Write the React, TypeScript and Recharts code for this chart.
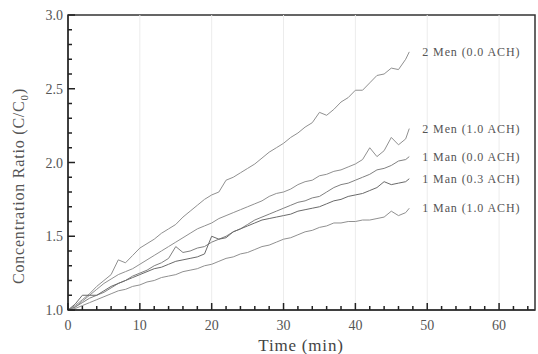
import { LineChart, Line, XAxis, YAxis, ReferenceArea, ReferenceLine, LabelList } from "recharts"

const times = [
    0, 1, 2, 3, 4, 5, 6, 7, 8, 9, 10, 11, 12, 13, 14, 15, 16, 17, 18, 19, 20, 21, 22, 23, 24,
    25, 26, 27, 28, 29, 30, 31, 32, 33, 34, 35, 36, 37, 38, 39, 40, 41, 42, 43, 44, 45, 46, 47, 47.5,
]

const men2ach00 = [
    1.0, 1.03, 1.07, 1.11, 1.16, 1.2, 1.24, 1.34, 1.32, 1.37, 1.42, 1.45, 1.48, 1.52, 1.55, 1.58,
    1.63, 1.67, 1.71, 1.75, 1.78, 1.8, 1.88, 1.9, 1.93, 1.96, 1.99, 2.03, 2.07, 2.1, 2.13, 2.17,
    2.2, 2.24, 2.27, 2.34, 2.32, 2.36, 2.41, 2.44, 2.49, 2.49, 2.54, 2.59, 2.6, 2.64, 2.63, 2.7, 2.75,
]
const men2ach10 = [
    1.0, 1.02, 1.06, 1.1, 1.14, 1.18, 1.21, 1.24, 1.26, 1.28, 1.31, 1.34, 1.37, 1.4, 1.43, 1.46,
    1.49, 1.52, 1.55, 1.57, 1.59, 1.62, 1.64, 1.66, 1.68, 1.7, 1.72, 1.74, 1.77, 1.79, 1.8, 1.82,
    1.85, 1.87, 1.88, 1.91, 1.92, 1.94, 1.95, 1.97, 1.99, 2.02, 2.1, 2.04, 2.08, 2.17, 2.12, 2.16, 2.23,
]
const man1ach00 = [
    1.0, 1.02, 1.05, 1.08, 1.1, 1.12, 1.15, 1.18, 1.2, 1.23, 1.25, 1.27, 1.3, 1.32, 1.35, 1.43,
    1.39, 1.4, 1.42, 1.43, 1.46, 1.48, 1.5, 1.53, 1.55, 1.58, 1.61, 1.63, 1.65, 1.67, 1.69, 1.71,
    1.73, 1.74, 1.76, 1.77, 1.8, 1.83, 1.85, 1.86, 1.88, 1.9, 1.92, 1.95, 1.96, 1.98, 2.01, 2.02, 2.04,
]
const man1ach03 = [
    1.0, 1.04, 1.1, 1.1, 1.1, 1.13, 1.16, 1.18, 1.2, 1.22, 1.24, 1.26, 1.28, 1.29, 1.31, 1.33,
    1.34, 1.35, 1.36, 1.38, 1.5, 1.48, 1.49, 1.53, 1.55, 1.57, 1.59, 1.61, 1.62, 1.63, 1.64, 1.65,
    1.67, 1.68, 1.69, 1.7, 1.72, 1.74, 1.75, 1.77, 1.78, 1.79, 1.81, 1.83, 1.87, 1.85, 1.86, 1.87, 1.89,
]
const man1ach10 = [
    1.0, 1.01, 1.03, 1.05, 1.07, 1.09, 1.11, 1.13, 1.14, 1.16, 1.17, 1.19, 1.2, 1.22, 1.23, 1.24,
    1.26, 1.27, 1.28, 1.3, 1.31, 1.33, 1.35, 1.36, 1.38, 1.39, 1.41, 1.43, 1.44, 1.46, 1.48, 1.49,
    1.51, 1.53, 1.54, 1.56, 1.57, 1.59, 1.59, 1.6, 1.6, 1.61, 1.61, 1.62, 1.63, 1.67, 1.64, 1.66, 1.69,
]

const seriesNames = [
    "2 Men (0.0 ACH)",
    "2 Men (1.0 ACH)",
    "1 Man (0.0 ACH)",
    "1 Man (0.3 ACH)",
    "1 Man (1.0 ACH)",
]

const xTicks = [
    0, 2, 4, 6, 8, 10, 12, 14, 16, 18, 20, 22, 24, 26, 28, 30, 32, 34, 36, 38, 40, 42, 44, 46, 48,
    50, 52, 54, 56, 58, 60, 62, 64,
]
const yTicks = [
    1.0, 1.1, 1.2, 1.3, 1.4, 1.5, 1.6, 1.7, 1.8, 1.9, 2.0, 2.1, 2.2, 2.3, 2.4, 2.5, 2.6, 2.7, 2.8,
    2.9, 3.0,
]
const gridX = [10, 20, 30, 40, 50, 60]

const allSeries = [men2ach00, men2ach10, man1ach00, man1ach03, man1ach10]
const keys = ["s0", "s1", "s2", "s3", "s4"]
const colors = ["#909090", "#909090", "#808080", "#6a6a6a", "#909090"]

const data = times.map((t, i) => {
    const row: Record<string, number> = { t }
    allSeries.forEach((s, j) => {
        row[keys[j]] = s[i]
    })
    return row
})

const font = "'Liberation Serif', 'Times New Roman', serif"
const last = times.length - 1

const isMajorX = (v: number) => v % 10 === 0
const isMajorY = (v: number) => Math.round(v * 10) % 5 === 0

// inward tick marks (longer on majors), labels only on majors
function XTick(props: any) {
    const { x, y, payload } = props
    const major = isMajorX(payload.value)
    return (
        <g>
            <path d={`M${x},${y}V${y - (major ? 7 : 4)}`} stroke="#222" strokeWidth={1.5} fill="none" />
            {major && (
                <text x={x} y={y + 20} textAnchor="middle" fontFamily={font} fontSize={14} fill="#555">
                    {payload.value}
                </text>
            )}
        </g>
    )
}

function YTick(props: any) {
    const { x, y, payload } = props
    const major = isMajorY(payload.value)
    return (
        <g>
            <path d={`M${x},${y}H${x + (major ? 7 : 4)}`} stroke="#222" strokeWidth={1.5} fill="none" />
            {major && (
                <text x={x - 5} y={y + 5} textAnchor="end" fontFamily={font} fontSize={14} fill="#555">
                    {payload.value.toFixed(1)}
                </text>
            )}
        </g>
    )
}

function endLabel(name: string) {
    return (props: any) => {
        if (props.index !== last) return null
        return (
            <text
                x={props.x + 13}
                y={props.y + 4}
                fontFamily={font}
                fontSize={12}
                letterSpacing={0.9}
                fill="#555"
            >
                {name}
            </text>
        )
    }
}

export default function App() {
    return (
        <div style={{ position: "absolute", left: 0, top: 0, background: "#fff" }}>
            <LineChart
                width={538}
                height={354}
                data={data}
                margin={{ top: 15, right: 3, left: 0, bottom: 0 }}
            >
                {gridX.map((g) => (
                    <ReferenceLine key={g} x={g} stroke="#ececec" strokeWidth={1} />
                ))}
                <ReferenceArea x1={0} x2={65} y1={1} y2={3} fill="none" stroke="#333" strokeWidth={1.5} />
                <XAxis
                    dataKey="t"
                    type="number"
                    domain={[0, 65]}
                    ticks={xTicks}
                    interval={0}
                    height={44}
                    tickSize={0}
                    tickMargin={0}
                    tickLine={false}
                    tick={<XTick />}
                    axisLine={{ stroke: "#333", strokeWidth: 1.5 }}
                />
                <YAxis
                    type="number"
                    domain={[1, 3]}
                    ticks={yTicks}
                    interval={0}
                    width={68}
                    tickSize={0}
                    tickMargin={0}
                    tickLine={false}
                    tick={<YTick />}
                    axisLine={{ stroke: "#333", strokeWidth: 1.5 }}
                />
                {keys.map((k, j) => (
                    <Line
                        key={k}
                        dataKey={k}
                        type="linear"
                        stroke={colors[j]}
                        strokeWidth={1}
                        dot={false}
                        isAnimationActive={false}
                    >
                        <LabelList dataKey={k} content={endLabel(seriesNames[j])} />
                    </Line>
                ))}
                <text x={301} y={351} textAnchor="middle" fontFamily={font} fontSize={17} fill="#444" letterSpacing={0.8}>
                    Time (min)
                </text>
                <text
                    x={24}
                    y={186}
                    transform="rotate(-90 24 186)"
                    textAnchor="middle"
                    fontFamily={font}
                    fontSize={16}
                    fill="#555"
                    letterSpacing={0.8}
                >
                    Concentration Ratio (C/C<tspan fontSize={11} dy={4}>0</tspan>
                    <tspan dy={-4}>)</tspan>
                </text>
            </LineChart>
        </div>
    )
}
